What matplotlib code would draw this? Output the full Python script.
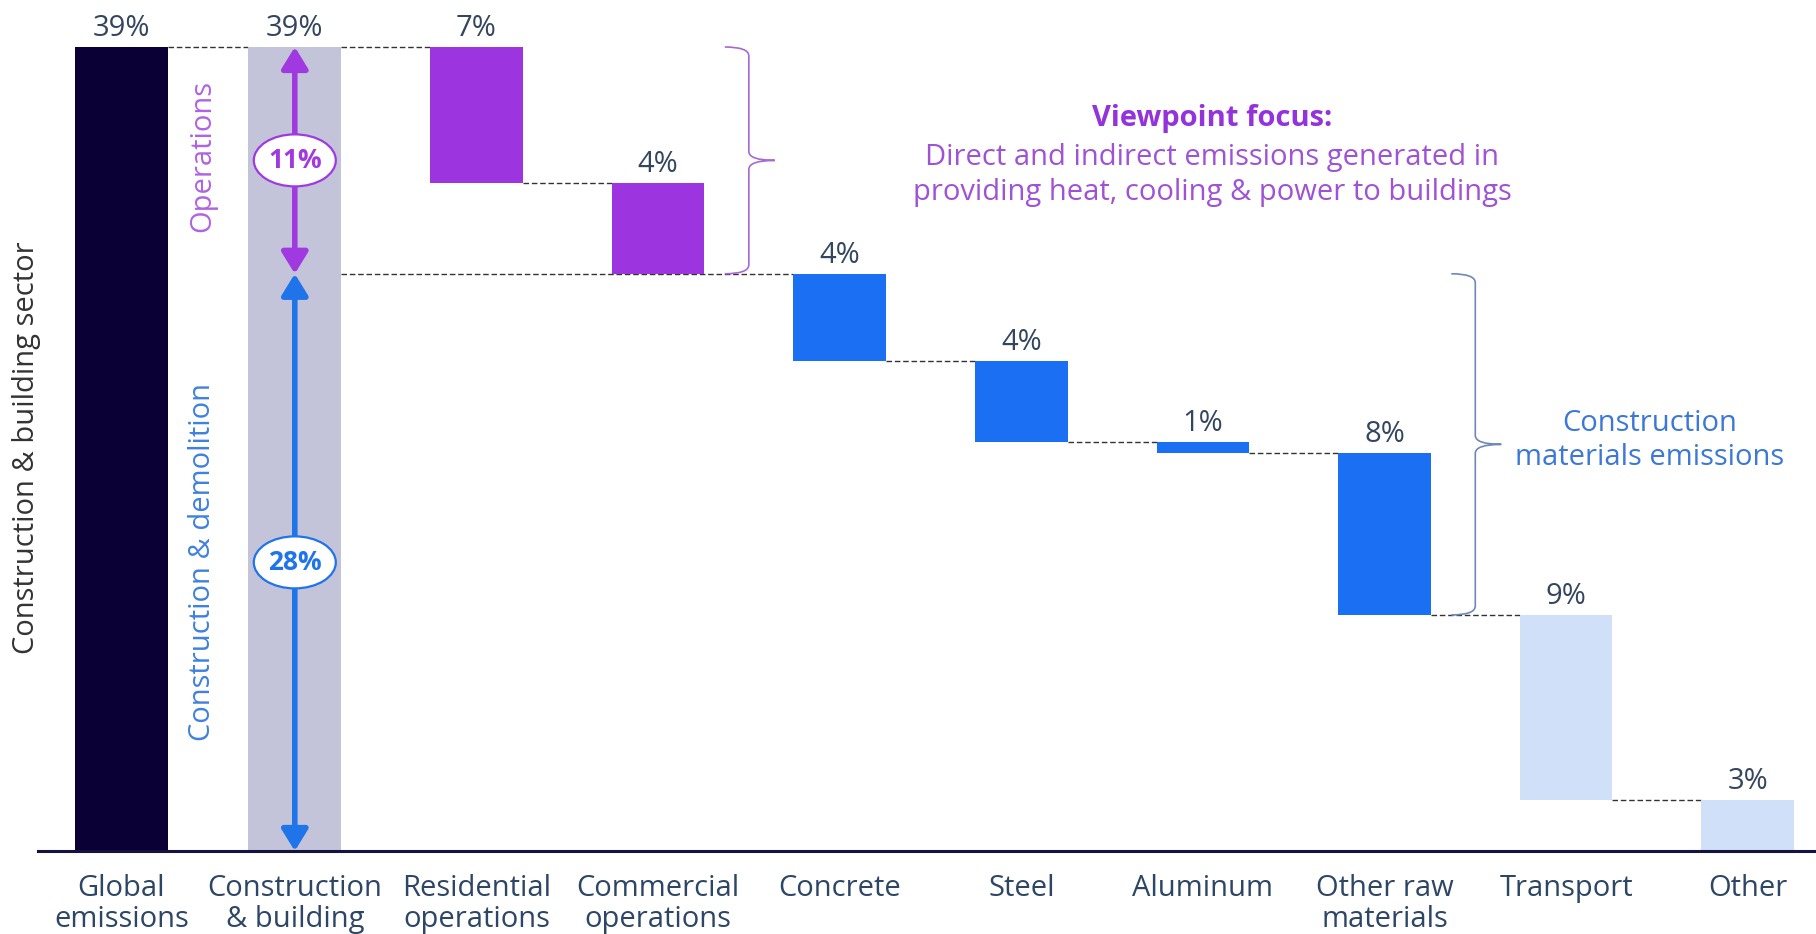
import numpy as np
import matplotlib
matplotlib.use("Agg")
import matplotlib.pyplot as plt
from matplotlib.patches import Ellipse, PathPatch
from matplotlib.path import Path

plt.rcParams['font.family'] = ['Open Sans', 'DejaVu Sans']

# ---------------- data ----------------
categories = ["Global\nemissions", "Construction\n& building", "Residential\noperations",
              "Commercial\noperations", "Concrete", "Steel", "Aluminum",
              "Other raw\nmaterials", "Transport", "Other"]
total_share = 39.0                      # global / construction & building
step_values = [6.6, 4.4, 4.25, 3.9, 0.55, 7.85, 9.0, 2.45]   # residential .. other
value_labels = ["39%", "39%", "7%", "4%", "4%", "4%", "1%", "8%", "9%", "3%"]
operations_share = 11.0
construction_share = 28.0
ops_label = "11%"
cd_label = "28%"

# ---------------- style ----------------
NAVY = "#0b0035"
LAV = "#c3c3da"
PURPLE = "#9c34df"
BLUE = "#1a6ff2"
LBLUE = "#cfe0f8"
bar_colors = [NAVY, LAV, PURPLE, PURPLE, BLUE, BLUE, BLUE, BLUE, LBLUE, LBLUE]
LABEL_C = "#34465f"
TICK_C = "#2d4666"

# waterfall geometry from data
bottoms = [0.0, 0.0]
heights = [total_share, total_share]
running = total_share
for v in step_values:
    bottoms.append(running - v)
    heights.append(v)
    running -= v
tops = [b + h for b, h in zip(bottoms, heights)]

x = np.arange(len(categories), dtype=float)
x[0] += 0.045
W = 0.51

fig = plt.figure(figsize=(18.16, 9.34), dpi=100)
ax = fig.add_axes([38 / 1816, 83 / 934, 1 - 38 / 1816, 851 / 934])
ax.set_xlim(-0.414, 9.376)
ax.set_ylim(0, 41.28)
for s in ["top", "right", "left"]:
    ax.spines[s].set_visible(False)
ax.spines["bottom"].set_color("#14123e")
ax.spines["bottom"].set_linewidth(2.2)
ax.set_xticks([])
ax.set_yticks([])

ax.bar(x, heights, bottom=bottoms, width=W, color=bar_colors, zorder=2)

# connectors
dash = dict(color="#333333", lw=1.0, ls=(0, (4, 2)), zorder=1)
ax.plot([x[0] + W / 2, x[1] - W / 2], [total_share] * 2, **dash)
ax.plot([x[1] + W / 2, x[2] - W / 2], [total_share] * 2, **dash)
ax.plot([x[1] + W / 2, x[4] - W / 2], [construction_share] * 2, **dash)
for i in range(2, len(x) - 1):
    if i == 3:
        continue
    ax.plot([x[i] + W / 2, x[i + 1] - W / 2], [bottoms[i]] * 2, **dash)

# value labels
for xi, t, lab in zip(x, tops, value_labels):
    ax.annotate(lab, xy=(xi, t), xytext=(0, 8), textcoords="offset points",
                ha="center", va="baseline", fontsize=21, color=LABEL_C)

# category labels
for xi, lab in zip(x, categories):
    for k, line in enumerate(lab.split("\n")):
        ax.annotate(line, xy=(xi, 0), xycoords="data",
                    xytext=(0, -32.5 - 22.0 * k), textcoords="offset points",
                    ha="center", va="baseline", fontsize=21, color=TICK_C,
                    annotation_clip=False)

# arrows inside the construction bar
OPS_C = "#a03ae0"
CD_C = "#1f74ea"
ax.annotate("", xy=(x[1], total_share), xytext=(x[1], construction_share),
            arrowprops=dict(arrowstyle="<|-|>,head_length=0.65,head_width=0.4",
                            color=OPS_C, lw=4, shrinkA=0, shrinkB=0, mutation_scale=20),
            zorder=4)
ax.annotate("", xy=(x[1], construction_share), xytext=(x[1], 0),
            arrowprops=dict(arrowstyle="<|-|>,head_length=0.65,head_width=0.4",
                            color=CD_C, lw=4, shrinkA=0, shrinkB=0, mutation_scale=20),
            zorder=4)

ew = 82 / 181.6
eh = 52 / 20.615
ops_mid = total_share - operations_share / 2
cd_mid = construction_share / 2
ax.add_patch(Ellipse((x[1], ops_mid), ew, eh, facecolor="white", edgecolor=OPS_C, lw=1.6, zorder=5))
ax.text(x[1], ops_mid, ops_label, ha="center", va="center", fontsize=19, fontweight="bold",
        color=OPS_C, zorder=6)
ax.add_patch(Ellipse((x[1], cd_mid), ew, eh, facecolor="white", edgecolor=CD_C, lw=1.6, zorder=5))
ax.text(x[1], cd_mid, cd_label, ha="center", va="center", fontsize=19, fontweight="bold",
        color=CD_C, zorder=6)

ax.text(0.493, 33.7, "Operations", rotation=90, ha="center", va="center",
        fontsize=21, color="#b062e4")
ax.text(0.493, 14.04, "Construction & demolition", rotation=90, ha="center", va="center",
        fontsize=21, color="#3f80e0")

fig.text(27 / 1816, (934 - 448) / 934, "Construction & building sector", rotation=90,
         ha="center", va="center", fontsize=21, color="#333333")


# braces
def brace(xv, ytop, ybot, color, hook=24, tip=26, r=9):
    T = ax.transData
    X, Yt = T.transform((xv, ytop))
    _, Yb = T.transform((xv, ybot))
    Ym = (Yt + Yb) / 2
    verts = [(X - hook, Yt), (X, Yt), (X, Yt - r),
             (X, Ym + r), (X, Ym), (X + tip, Ym),
             (X, Ym), (X, Ym - r),
             (X, Yb + r), (X, Yb), (X - hook, Yb)]
    codes = [Path.MOVETO, Path.CURVE3, Path.CURVE3,
             Path.LINETO, Path.CURVE3, Path.CURVE3,
             Path.CURVE3, Path.CURVE3,
             Path.LINETO, Path.CURVE3, Path.CURVE3]
    dverts = T.inverted().transform(verts)
    ax.add_patch(PathPatch(Path(dverts, codes), fill=False, edgecolor=color, lw=1.2, zorder=3))


brace(3.5, total_share, construction_share, "#a66ad2")
brace(7.5, construction_share, bottoms[7], "#6f88b8")

# annotations
ax.text(6.05, 35.51, "Viewpoint focus:", ha="center", va="center", fontsize=21,
        fontweight="bold", color="#9433dc")
ax.text(6.05, 33.62, "Direct and indirect emissions generated in", ha="center", va="center",
        fontsize=21, color="#a052d6")
ax.text(6.05, 31.92, "providing heat, cooling & power to buildings", ha="center", va="center",
        fontsize=21, color="#a052d6")

ax.text(8.46, 20.76, "Construction", ha="center", va="center", fontsize=21, color="#3b78d8")
ax.text(8.46, 19.11, "materials emissions", ha="center", va="center", fontsize=21, color="#3b78d8")

fig.savefig("out.png", dpi=100)
